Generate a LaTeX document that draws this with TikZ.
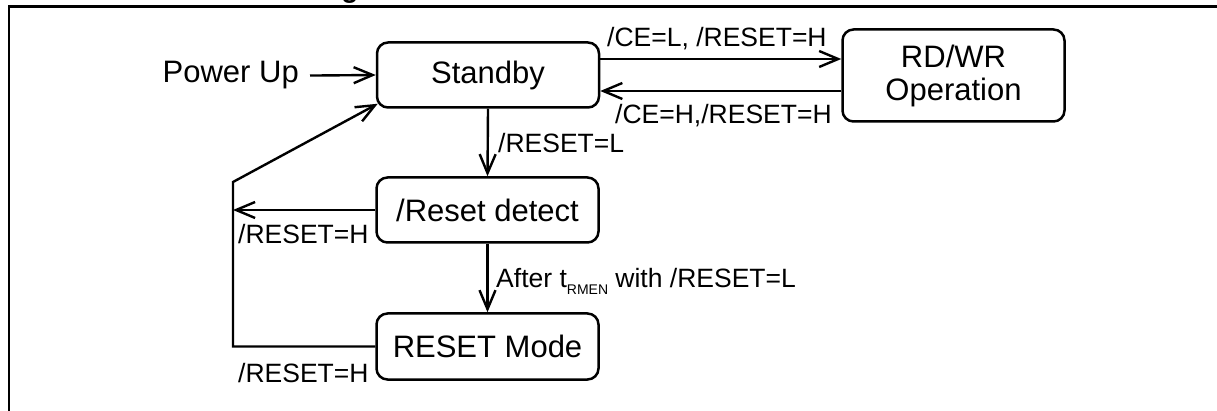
\documentclass[tikz,border=0pt]{standalone}
\usepackage{fontspec}
\setmainfont{Liberation Sans}
\usetikzlibrary{arrows.meta}
\begin{document}
\begin{tikzpicture}[x=1pt,y=-1pt,
  state/.style={draw, line width=2.5pt, rounded corners=11pt, minimum width=222pt, minimum height=65pt, inner sep=0pt, font=\fontsize{31}{33}\selectfont, align=center},
  lbl/.style={inner sep=0pt, anchor=base west, font=\fontsize{26.5}{28}\selectfont},
  arr/.style={line width=2.4pt, -{Straight Barb[length=19pt,width=16pt]}},
  wire/.style={line width=2.4pt}]
\useasboundingbox (0,0) rectangle (1217,411);
% frame
\draw[line width=2.7pt] (9,411) -- (9,6.5) -- (1217,6.5);
\node[anchor=base, inner sep=0pt, font=\fontsize{28}{28}\selectfont\bfseries] (ttl) at (350,-2) {g};
% states
\node[state] (sb) at (488,75) {Standby};
\node[state, minimum height=92pt] (rw) at (953.5,75.5) {RD/WR\\Operation};
\node[state] (rd) at (487.5,210) {/Reset detect};
\node[state, minimum height=66pt] (rm) at (487.5,346.5) {RESET Mode};
\node[inner sep=0pt, anchor=base east, font=\fontsize{31}{33}\selectfont] (pu) at (299,83) {Power Up};
% helper points
\coordinate (c1) at (233,182);
\coordinate (c2) at ([shift={(2pt,5pt)}]sb.south west);
% connectors
\draw[arr] ([xshift=11pt]pu.east) -- (sb.west);
\draw[arr] ([yshift=16pt]sb.east) -- ([yshift=16pt]sb.east -| rw.west);
\draw[arr] ([yshift=-16pt]sb.east -| rw.west) -- ([yshift=-16pt]sb.east);
\draw[arr] (sb.south) -- (rd.north);
\draw[arr] (rd.south) -- (rm.north);
\draw[arr] (rd.west) -- (rd.west -| c1);
\draw[arr] (rm.west) -- (rm.west -| c1) -- (c1) -- (c2);
% labels
\node[lbl] (l1) at (607,47) {/CE=L, /RESET=H};
\node[lbl] (l2) at (615,124) {/CE=H,/RESET=H};
\node[lbl] (l3) at (498,153) {/RESET=L};
\node[lbl] (l4) at (238,244) {/RESET=H};
\node[lbl] (l5) at (238,382) {/RESET=H};
\node[lbl] (l6) at (496,288) {After t{\fontsize{14}{14}\selectfont\raisebox{-7pt}{RMEN}} with /RESET=L};
\end{tikzpicture}
\end{document}
